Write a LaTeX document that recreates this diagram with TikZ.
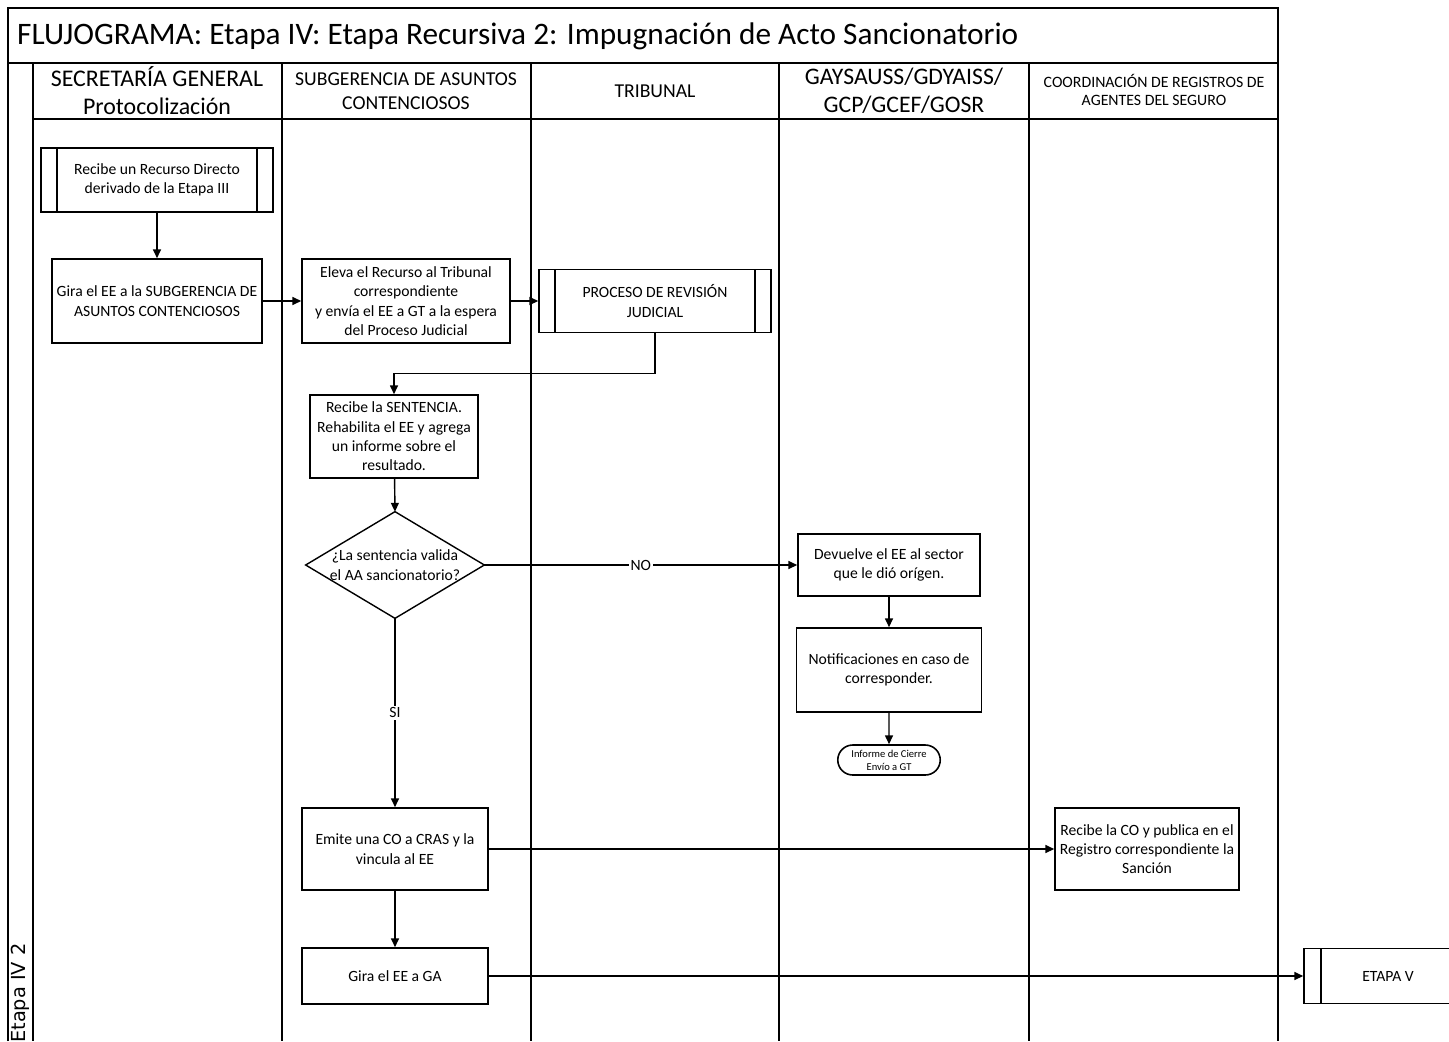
\documentclass[tikz,border=0pt]{standalone}
\usepackage{fontspec}
\setmainfont{Carlito}
\newfontfamily\etapafont{DejaVu Sans}
\usepackage{tikz}
\usetikzlibrary{positioning,shapes.geometric,shapes.misc,arrows.meta}

\begin{document}
\begin{tikzpicture}[x=0.02cm,y=-0.02cm,
		lane/.style={line width=0.6pt},
		box/.style={draw,line width=0.9pt,fill=white,align=center,inner sep=2pt,font=\fontsize{8.9}{11}\selectfont},
		subproc/.style={box,path picture={
				\draw ([xshift=0.32cm]path picture bounding box.north west) -- ([xshift=0.32cm]path picture bounding box.south west);
				\draw ([xshift=-0.32cm]path picture bounding box.north east) -- ([xshift=-0.32cm]path picture bounding box.south east);}},
		decision/.style={align=center,inner sep=0pt,minimum width=3.56cm,minimum height=2.12cm,font=\fontsize{8.9}{11}\selectfont},
		term/.style={box,rounded rectangle,inner sep=1pt,font=\fontsize{6}{7.5}\selectfont},
		arrow/.style={draw,line width=0.8pt,-{Triangle[length=5pt,width=4.5pt]}},
		lbl/.style={fill=white,inner sep=1pt,font=\fontsize{8.9}{11}\selectfont},
		head/.style={align=center}
	]
	\useasboundingbox (0,0) rectangle (1449,1041);
	% frame and swimlanes
	\draw[line width=0.8pt] (8,1041) -- (8,8) -- (1278,8) -- (1278,1041);
	\draw[line width=0.8pt] (8,63) -- (1278,63);
	\draw[lane] (33,119) -- (1278,119);
	\foreach \lx in {33,282,531,779,1029}
		\draw[lane] (\lx,63) -- (\lx,1041);
	\node[anchor=west,font=\fontsize{17.8}{21}\selectfont] (title) at (11,36) {FLUJOGRAMA: Etapa IV: Etapa Recursiva 2: Impugnación de Acto Sancionatorio};
	\node[rotate=90,font=\etapafont\fontsize{11}{13}\selectfont] (etapa) at (20,993) {Etapa IV 2};
	% lane headers
	\node[head,font=\fontsize{13.6}{16}\selectfont] (h1) at (157,91) {SECRETARÍA GENERAL\\Protocolización};
	\node[head,font=\fontsize{11.2}{14}\selectfont] (h2) at (406,91) {SUBGERENCIA DE ASUNTOS\\CONTENCIOSOS};
	\node[head,font=\fontsize{11.2}{14}\selectfont] (h3) at (655,91) {TRIBUNAL};
	\node[head,font=\fontsize{13.5}{16}\selectfont] (h4) at (904,91) {GAYSAUSS/GDYAISS/\\GCP/GCEF/GOSR};
	\node[head,font=\fontsize{9}{10.5}\selectfont] (h5) at (1154,90) {COORDINACIÓN DE REGISTROS DE\\AGENTES DEL SEGURO};
	% steps
	\node[subproc,minimum width=4.64cm,minimum height=1.28cm] (recibe) at (157,180) {Recibe un Recurso Directo\\derivado de la Etapa III};
	\node[box,minimum width=4.2cm,minimum height=1.68cm] (gira) at (157,301) {Gira el EE a la SUBGERENCIA DE\\ASUNTOS CONTENCIOSOS};
	\node[box,minimum width=4.16cm,minimum height=1.68cm] (eleva) at (406,301) {Eleva el Recurso al Tribunal\\correspondiente\\y envía el EE a GT a la espera\\del Proceso Judicial};
	\node[subproc,minimum width=4.64cm,minimum height=1.26cm] (revision) at (655,301) {PROCESO DE REVISIÓN\\JUDICIAL};
	\node[box,minimum width=3.36cm,minimum height=1.66cm] (sentencia) at (394,436.5) {Recibe la SENTENCIA.\\Rehabilita el EE y agrega\\un informe sobre el\\resultado.};
	\node[decision] (valida) at (395,565) {¿La sentencia valida\\el AA sancionatorio?};
	\draw[line width=0.8pt] (valida.west) -- (valida.north) -- (valida.east) -- (valida.south) -- cycle;
	\node[box,minimum width=3.64cm,minimum height=1.24cm] (devuelve) at (889,565) {Devuelve el EE al sector\\que le dió orígen.};
	\node[box,minimum width=3.7cm,minimum height=1.68cm] (notif) at (889,670) {Notificaciones en caso de\\corresponder.};
	\node[term,minimum width=2.12cm,minimum height=0.6cm] (cierre) at (889,760) {Informe de Cierre\\Envío a GT};
	\node[box,minimum width=3.72cm,minimum height=1.64cm] (emite) at (395,849) {Emite una CO a CRAS y la\\vincula al EE};
	\node[box,minimum width=3.68cm,minimum height=1.64cm] (publica) at (1147,849) {Recibe la CO y publica en el\\Registro correspondiente la\\Sanción};
	\node[box,minimum width=3.72cm,minimum height=1.12cm] (giraga) at (395,976) {Gira el EE a GA};
	\node[box,minimum width=3.36cm,minimum height=1.1cm,path picture={
			\draw ([xshift=0.34cm]path picture bounding box.north west) -- ([xshift=0.34cm]path picture bounding box.south west);}] (etapav) at (1388,976) {ETAPA V};
	% connectors
	\draw[arrow] (recibe) -- (gira);
	\draw[arrow] (gira) -- (eleva);
	\draw[arrow] (eleva) -- (revision);
	\draw[arrow] (revision.south) -- ++(0,40) -| (sentencia.north);
	\draw[arrow] (sentencia) -- (valida.north);
	\draw[arrow] (valida.east) -- node[lbl] {NO} (devuelve.west);
	\draw[arrow] (devuelve) -- (notif);
	\draw[arrow] (notif) -- (cierre);
	\draw[arrow] (valida.south) -- node[lbl] {SI} (emite.north);
	\draw[arrow] (emite) -- (publica);
	\draw[arrow] (emite) -- (giraga);
	\draw[arrow] (giraga) -- (etapav);
\end{tikzpicture}
\end{document}
